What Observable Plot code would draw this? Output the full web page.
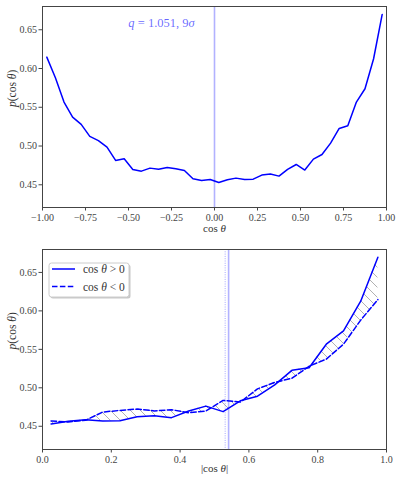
<!DOCTYPE html>
<html><head><meta charset="utf-8">
<script src="https://cdn.jsdelivr.net/npm/d3@7"></script>
<script src="https://cdn.jsdelivr.net/npm/@observablehq/plot@0.6"></script>
<style>
body{margin:0;background:#fff;}
#wrap{position:relative;width:399px;height:483px;font-family:"Liberation Serif",serif;}
#wrap svg{display:block}
#wrap svg, #wrap svg text, #wrap svg tspan{font-family:"Liberation Serif",serif !important;}
#legend{position:absolute;left:46px;top:260px;}
</style></head><body>
<div id="wrap"></div>
<script>
// ---- data ----
// bin centres of |cos θ|
const absCos = [0.025,0.075,0.125,0.175,0.225,0.275,0.325,0.375,0.425,0.475,0.525,0.575,0.625,0.675,0.725,0.775,0.825,0.875,0.925,0.975];
// p(cos θ) for cos θ > 0, ordered by |cos θ|
const pPos = [0.453,0.4565,0.4586,0.4569,0.4573,0.4625,0.4638,0.4612,0.4698,0.4762,0.4690,0.4831,0.4891,0.5038,0.5227,0.5261,0.5567,0.5739,0.6126,0.6698];
// p(cos θ) for cos θ < 0, ordered by |cos θ|
const pNeg = [0.4569,0.4556,0.4577,0.4685,0.4706,0.4724,0.4700,0.4715,0.4676,0.4698,0.4836,0.4814,0.4986,0.5070,0.5124,0.5280,0.5373,0.5567,0.5880,0.6147];
const xTicksTop = [-1,-0.75,-0.5,-0.25,0,0.25,0.5,0.75,1];
const xTicksBottom = [0,0.2,0.4,0.6,0.8,1];
const yTicks = [0.45,0.5,0.55,0.6,0.65];
const vlineTop = [0];
const vlineSolid = [0.541];
const vlineDotted = [0.531];
const annotation = "q = 1.051, 9σ";

// tables built from arrays
const topData = [];
for (let i = absCos.length - 1; i >= 0; i--) topData.push({c: -absCos[i], p: pNeg[i]});
for (let i = 0; i < absCos.length; i++) topData.push({c: absCos[i], p: pPos[i]});
const botData = absCos.map((a, i) => ({a, pos: pPos[i], neg: pNeg[i]}));

const FONT = "Liberation Serif, serif";
const AX = "#444";
const TXT = "#333";
const BLUE = "#0000ff";

function styleLabels(svg) {
  svg.querySelectorAll("text").forEach(t => {
    const s = t.textContent;
    if (s === "p(cos θ)") t.innerHTML = '<tspan font-style="italic">p</tspan>(cos <tspan font-style="italic">θ</tspan>)';
    else if (s === "cos θ") t.innerHTML = 'cos <tspan font-style="italic">θ</tspan>';
    else if (s === "|cos θ|") t.innerHTML = '|cos <tspan font-style="italic">θ</tspan>|';
    else if (s === annotation) t.innerHTML = '<tspan font-style="italic">q</tspan> = 1.051, 9<tspan font-style="italic">σ</tspan>';
  });
}

const axisCommon = {tickSize: 3.5, color: AX, label: null, fontSize: 10};

const topPlot = Plot.plot({
  width: 399, height: 240,
  marginLeft: 42, marginRight: 13, marginTop: 6, marginBottom: 33,
  style: {fontFamily: FONT, fontSize: "10px", background: "white", overflow: "visible"},
  x: {domain: [-1, 1]},
  y: {domain: [0.4207, 0.680]},
  marks: [
    Plot.axisX({...axisCommon, ticks: xTicksTop, tickFormat: d3.format(".2f"), tickPadding: 2.5}),
    Plot.axisY({...axisCommon, ticks: yTicks, tickFormat: d3.format(".2f"), tickPadding: 2}),
    Plot.ruleX(vlineTop, {stroke: BLUE, strokeOpacity: 0.3, strokeWidth: 1.6}),
    Plot.line(topData, {x: "c", y: "p", stroke: BLUE, strokeWidth: 1.5}),
    Plot.frame({stroke: AX, strokeWidth: 1}),
    Plot.text([annotation], {frameAnchor: "top", dx: -53, dy: 12, fill: BLUE, fillOpacity: 0.6, fontSize: 12.5}),
    Plot.text(["cos θ"], {frameAnchor: "bottom", dy: 24, fontSize: 11, fill: TXT}),
    Plot.text(["p(cos θ)"], {frameAnchor: "left", dx: -30, rotate: -90, fontSize: 11.5, fill: TXT})
  ]
});
styleLabels(topPlot);

const botPlot = Plot.plot({
  width: 399, height: 243,
  marginLeft: 42, marginRight: 13, marginTop: 9, marginBottom: 34,
  style: {fontFamily: FONT, fontSize: "10px", background: "white", overflow: "visible"},
  x: {domain: [0, 1]},
  y: {domain: [0.4198, 0.6798]},
  marks: [
    Plot.axisX({...axisCommon, ticks: xTicksBottom, tickFormat: d3.format(".1f"), tickPadding: 2.5}),
    Plot.axisY({...axisCommon, ticks: yTicks, tickFormat: d3.format(".2f"), tickPadding: 2}),
    Plot.areaY(botData, {x: "a", y1: "pos", y2: "neg", fill: "url(#hatch)"}),
    Plot.ruleX(vlineSolid, {stroke: BLUE, strokeOpacity: 0.3, strokeWidth: 1.6}),
    Plot.ruleX(vlineDotted, {stroke: BLUE, strokeOpacity: 0.35, strokeWidth: 1, strokeDasharray: "1,1.3"}),
    Plot.line(botData, {x: "a", y: "pos", stroke: BLUE, strokeWidth: 1.5}),
    Plot.line(botData, {x: "a", y: "neg", stroke: BLUE, strokeWidth: 1.5, strokeDasharray: "5.5,2.4"}),
    Plot.frame({stroke: AX, strokeWidth: 1}),
    Plot.text(["|cos θ|"], {frameAnchor: "bottom", dy: 22, fontSize: 11, fill: TXT}),
    Plot.text(["p(cos θ)"], {frameAnchor: "left", dx: -30, rotate: -90, fontSize: 11.5, fill: TXT})
  ]
});
styleLabels(botPlot);
const ns = "http://www.w3.org/2000/svg";
const defs = document.createElementNS(ns, "defs");
defs.innerHTML = '<pattern id="hatch" patternUnits="userSpaceOnUse" width="10" height="10"><path d="M-2,-2L12,12M-2,8L2,12M8,-2L12,2" stroke="#a8a8a8" stroke-width="0.9" fill="none"/></pattern>';
botPlot.insertBefore(defs, botPlot.firstChild);

const wrap = document.getElementById("wrap");
wrap.appendChild(topPlot);
wrap.appendChild(botPlot);

// legend
const legendItems = [
  {label: "cos θ > 0", dash: null},
  {label: "cos θ < 0", dash: "5.5,2.4"}
];
const lg = d3.create("svg").attr("id", "legend").attr("width", 90).attr("height", 42)
  .style("font-family", FONT).style("font-size", "11.5px");
lg.append("rect").attr("x", 4.5).attr("y", 4.5).attr("width", 80).attr("height", 34).attr("rx", 2.5).attr("fill", "#c8c8c8");
lg.append("rect").attr("x", 3).attr("y", 3).attr("width", 80).attr("height", 34).attr("rx", 2.5)
  .attr("fill", "white").attr("stroke", "#cccccc").attr("stroke-width", 1);
legendItems.forEach((d, i) => {
  const y = 9 + i * 17.5;
  lg.append("line").attr("x1", 6).attr("x2", 29).attr("y1", y).attr("y2", y)
    .attr("stroke", BLUE).attr("stroke-width", 1.5).attr("stroke-dasharray", d.dash);
  const t = lg.append("text").attr("x", 37).attr("y", y).attr("dy", "0.35em").attr("fill", TXT);
  t.append("tspan").text("cos ");
  t.append("tspan").attr("font-style", "italic").text("θ");
  t.append("tspan").text(d.label.slice(5));
});
wrap.appendChild(lg.node());
</script>
</body></html>
